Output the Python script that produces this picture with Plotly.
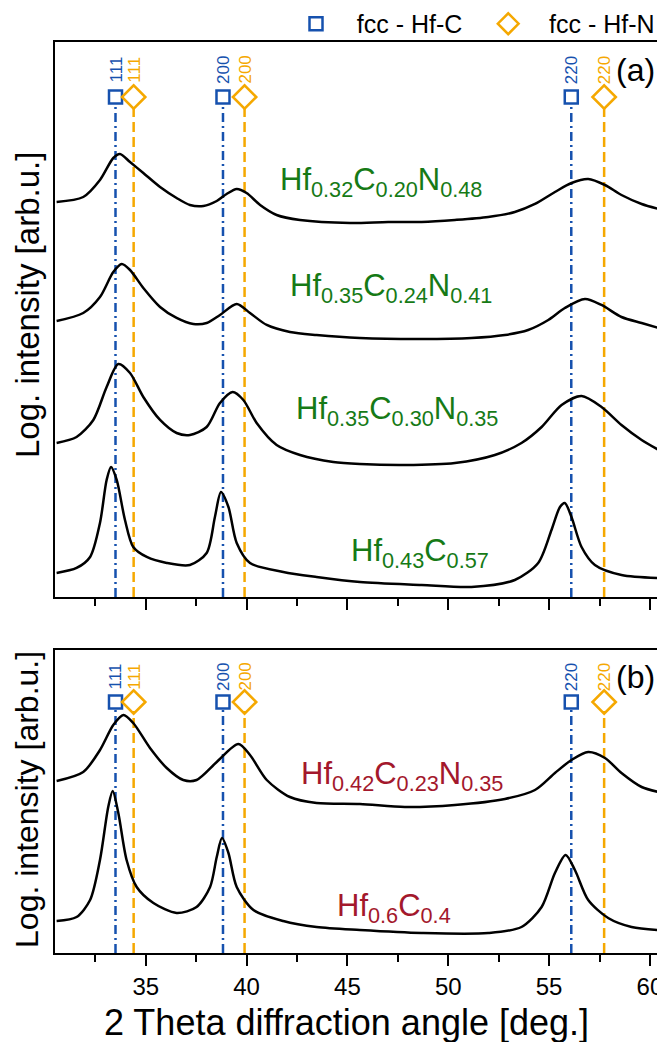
import plotly.graph_objects as go

# ---------------- data ----------------
# panel (a)
x_a1 = [30.58, 31.9, 32.73, 33.39, 33.72, 34.22, 34.88, 35.71, 36.53, 37.19, 37.86, 38.52, 39.01, 39.51, 40.0, 40.67, 41.49, 42.65, 45.13, 47.02, 48.68, 50.33, 51.98, 53.3, 54.3, 55.29, 56.11, 56.94, 57.77, 58.59, 59.59, 60.44]
y_a1 = [395, 400, 417, 439, 443, 435, 424, 410, 399, 392, 391, 396, 403, 408, 404, 392, 382, 377, 374, 375, 375, 377, 380, 385, 393, 405, 414, 418, 412, 402, 393, 388]

x_a2 = [30.58, 31.9, 32.73, 33.39, 33.81, 34.22, 34.88, 35.71, 36.53, 37.36, 38.02, 38.68, 39.51, 40.17, 41.0, 42.15, 43.47, 45.62, 48.68, 51.15, 52.81, 53.96, 54.96, 55.78, 56.78, 57.6, 58.59, 59.59, 60.44]
y_a2 = [276, 284, 300, 325, 333, 327, 309, 290, 279, 273, 274, 282, 293, 284, 272, 265, 262, 259, 258, 259, 262, 267, 277, 289, 298, 292, 280, 274, 269]

x_a3 = [30.58, 31.57, 32.4, 33.06, 33.64, 34.22, 34.88, 35.71, 36.53, 37.19, 38.02, 38.68, 39.31, 39.84, 40.5, 41.49, 42.65, 44.3, 45.62, 47.85, 50.33, 52.31, 53.63, 54.63, 55.62, 56.61, 57.6, 58.59, 59.59, 60.44]
y_a3 = [154, 160, 177, 210, 233, 224, 200, 177, 164, 162, 170, 194, 205, 197, 174, 152, 142, 135, 133, 132, 134, 142, 154, 170, 192, 201, 190, 172, 157, 147]

x_a4 = [30.58, 31.57, 32.24, 32.73, 33.06, 33.28, 33.56, 33.97, 34.38, 35.05, 36.04, 37.19, 38.02, 38.43, 38.73, 39.1, 39.51, 40.17, 41.82, 43.47, 45.62, 48.68, 51.15, 53.3, 54.46, 55.12, 55.54, 55.78, 56.11, 56.61, 57.27, 58.59, 60.44]
y_a4 = [24, 29, 40, 74, 117, 130, 117, 77, 50, 40, 34, 32, 44, 80, 105, 90, 54, 34, 25, 20, 15, 12, 10, 17, 34, 67, 90, 94, 80, 50, 32, 22, 19]

# panel (b)
x_b1 = [30.58, 31.9, 32.73, 33.39, 33.89, 34.38, 35.21, 36.04, 36.86, 37.52, 38.52, 39.59, 40.17, 41.0, 42.15, 43.47, 45.62, 47.85, 50.33, 52.81, 54.3, 55.29, 56.11, 56.94, 57.77, 58.59, 59.59, 60.44]
y_b1 = [172, 181, 203, 228, 238, 230, 205, 185, 173, 173, 191, 209, 198, 173, 156, 150, 149, 146, 148, 154, 163, 180, 193, 201, 195, 180, 166, 161]

x_b2 = [30.58, 31.57, 32.24, 32.73, 33.14, 33.36, 33.64, 34.05, 34.55, 35.38, 36.53, 37.52, 38.19, 38.52, 38.78, 39.1, 39.51, 40.34, 41.82, 43.47, 45.62, 48.68, 51.98, 53.63, 54.63, 55.29, 55.82, 56.28, 56.94, 57.93, 59.09, 60.44]
y_b2 = [32, 36, 53, 93, 146, 162, 140, 93, 66, 50, 40, 46, 66, 96, 115, 100, 66, 43, 32, 26, 23, 20, 20, 26, 46, 80, 98, 83, 53, 35, 26, 23]

curves_a = [(x_a1, y_a1), (x_a2, y_a2), (x_a3, y_a3), (x_a4, y_a4)]
curves_b = [(x_b1, y_b1), (x_b2, y_b2)]

labels_a = ["Hf<sub>0.32</sub>C<sub>0.20</sub>N<sub>0.48</sub>",
            "Hf<sub>0.35</sub>C<sub>0.24</sub>N<sub>0.41</sub>",
            "Hf<sub>0.35</sub>C<sub>0.30</sub>N<sub>0.35</sub>",
            "Hf<sub>0.43</sub>C<sub>0.57</sub>"]
label_a_x = [46.66, 47.16, 47.48, 48.6]
label_a_y = [415, 309, 186, 44]
labels_b = ["Hf<sub>0.42</sub>C<sub>0.23</sub>N<sub>0.35</sub>",
            "Hf<sub>0.6</sub>C<sub>0.4</sub>"]
label_b_x = [47.73, 47.31]
label_b_y = [177, 45]

hfc_pos = [33.5, 38.83, 56.1]
hfn_pos = [34.4, 39.9, 57.73]
hkl = ["111", "200", "220"]

x_ticks = [35, 40, 45, 50, 55, 60]
x_minor = [32.5, 37.5, 42.5, 47.5, 52.5, 57.5]

# ---------------- style ----------------
FONT = "Liberation Sans, Arial, sans-serif"
BLUE = "#1651ae"
ORANGE = "#f5a800"
GREEN = "#167a16"
RED = "#a3182c"
NB = "\u00a0"

YR_A = [0, 555]
YR_B = [0, 303]
MARK_A = 500
MARK_B = 251
HKL_A = 527
HKL_B = 276

fig = go.Figure()

def add_refs(xref, yref, mark_y, hkl_y, show):
    for p in hfc_pos:
        fig.add_trace(go.Scatter(x=[p, p], y=[0, mark_y - 7], mode="lines",
                                 line=dict(color=BLUE, width=2.5, dash="9px,4px,2px,4px"),
                                 showlegend=False, hoverinfo="skip", xaxis=xref, yaxis=yref))
    for p in hfn_pos:
        fig.add_trace(go.Scatter(x=[p, p], y=[0, mark_y - 9], mode="lines",
                                 line=dict(color=ORANGE, width=2.5, dash="10px,5px"),
                                 showlegend=False, hoverinfo="skip", xaxis=xref, yaxis=yref))
    fig.add_trace(go.Scatter(x=hfc_pos, y=[mark_y] * 3, mode="markers",
                             name=NB * 3 + "fcc - Hf-C" + NB * 3,
                             marker=dict(symbol="square-open", size=13, color=BLUE, line=dict(width=2.5, color=BLUE)),
                             showlegend=show, xaxis=xref, yaxis=yref))
    fig.add_trace(go.Scatter(x=hfn_pos, y=[mark_y] * 3, mode="markers",
                             name=NB * 3 + "fcc - Hf-N",
                             marker=dict(symbol="diamond-open", size=18, color=ORANGE, line=dict(width=2.5, color=ORANGE)),
                             showlegend=show, xaxis=xref, yaxis=yref))
    for p, h in zip(hfc_pos, hkl):
        fig.add_annotation(x=p, y=hkl_y, xref=xref, yref=yref, text=h, textangle=-90,
                           showarrow=False, font=dict(family=FONT, size=17, color=BLUE))
    for p, h in zip(hfn_pos, hkl):
        fig.add_annotation(x=p, y=hkl_y, xref=xref, yref=yref, text=h, textangle=-90,
                           showarrow=False, font=dict(family=FONT, size=17, color=ORANGE))

add_refs("x", "y", MARK_A, HKL_A, True)
add_refs("x2", "y2", MARK_B, HKL_B, False)

for xs, ys in curves_a:
    fig.add_trace(go.Scatter(x=xs, y=ys, mode="lines", line=dict(color="black", width=2.5, shape="spline", smoothing=0.8),
                             showlegend=False, xaxis="x", yaxis="y"))
for xs, ys in curves_b:
    fig.add_trace(go.Scatter(x=xs, y=ys, mode="lines", line=dict(color="black", width=2.5, shape="spline", smoothing=0.8),
                             showlegend=False, xaxis="x2", yaxis="y2"))

for t, lx, ly in zip(labels_a, label_a_x, label_a_y):
    fig.add_annotation(x=lx, y=ly, xref="x", yref="y", text=t, showarrow=False,
                       font=dict(family=FONT, size=31, color=GREEN))
for t, lx, ly in zip(labels_b, label_b_x, label_b_y):
    fig.add_annotation(x=lx, y=ly, xref="x2", yref="y2", text=t, showarrow=False,
                       font=dict(family=FONT, size=31, color=RED))

# panel letters
fig.add_annotation(x=1, y=HKL_A, xref="paper", yref="y", text="(a)", xanchor="right", xshift=-3,
                   showarrow=False, font=dict(family=FONT, size=32, color="black"))
fig.add_annotation(x=1, y=HKL_B, xref="paper", yref="y2", text="(b)", xanchor="right", xshift=-3,
                   showarrow=False, font=dict(family=FONT, size=32, color="black"))

# axis titles
ytitle = "Log. intensity [arb.u.]"
fig.add_annotation(x=0, y=0.7113, xref="paper", yref="paper", xshift=-28, xanchor="center", yanchor="middle",
                   text=ytitle, textangle=-90, showarrow=False, font=dict(family=FONT, size=33, color="black"))
fig.add_annotation(x=0, y=0.168, xref="paper", yref="paper", xshift=-28, xanchor="center", yanchor="middle",
                   text=ytitle, textangle=-90, showarrow=False, font=dict(family=FONT, size=32, color="black"))
fig.add_annotation(x=0.4826, y=-0.0768, xref="paper", yref="paper", xanchor="center", yanchor="middle",
                   text="2 Theta diffraction angle [deg.]",
                   showarrow=False, font=dict(family=FONT, size=36, color="black"))

xcommon = dict(range=[30.5, 60.5], showline=True, linecolor="black", linewidth=2, mirror=True,
               ticks="outside", ticklen=11, tickwidth=2, tickcolor="black", tickvals=x_ticks,
               minor=dict(tickvals=x_minor, ticks="outside", ticklen=7, tickwidth=2, tickcolor="black"),
               showgrid=False, zeroline=False, tickfont=dict(family=FONT, size=24, color="black"))
ycommon = dict(showline=True, linecolor="black", linewidth=2, mirror=True, ticks="", showticklabels=False,
               showgrid=False, zeroline=False)

# the page adds an 8 px body margin, so the figure is sized to fill the rest of the window
fig.update_layout(
    width=657, height=1034,
    margin=dict(l=47, r=5, t=34, b=89, autoexpand=False),
    paper_bgcolor="white", plot_bgcolor="white",
    font=dict(family=FONT, color="black"),
    xaxis=dict(domain=[0, 1], anchor="y", showticklabels=False, **xcommon),
    yaxis=dict(domain=[0.3908, 1], anchor="x", range=YR_A, **ycommon),
    xaxis2=dict(domain=[0, 1], anchor="y2", showticklabels=True, **xcommon),
    yaxis2=dict(domain=[0, 0.3326], anchor="x2", range=YR_B, **ycommon),
    legend=dict(orientation="h", x=1.0, xanchor="right", y=1.0198, yanchor="middle",
                font=dict(family=FONT, size=25, color="black"), bgcolor="rgba(0,0,0,0)",
                itemwidth=30, tracegroupgap=0),
)

fig.write_html("out.html")
